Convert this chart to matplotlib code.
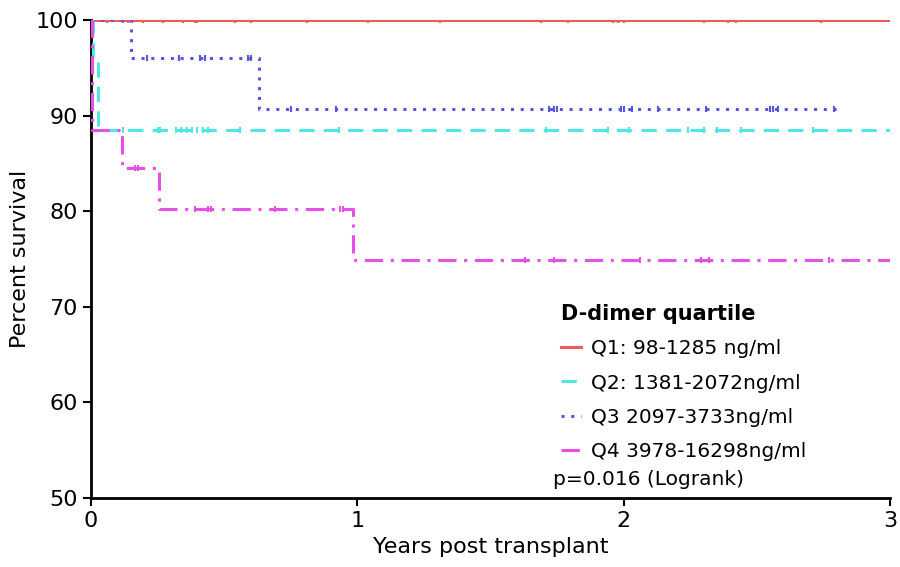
import matplotlib
matplotlib.use("Agg")
import matplotlib.pyplot as plt
import numpy as np

plt.rcParams['font.family'] = ['DejaVu Sans']

# Step curves: event times and survival after each step
q1_times = [0.0, 3.0]
q1_surv = [100.0, 100.0]
q2_times = [0.0, 0.008, 0.025, 3.0]
q2_surv = [100.0, 96.15, 88.46, 88.46]
q3_times = [0.0, 0.15, 0.63, 2.8]
q3_surv = [100.0, 96.0, 90.7, 90.7]
q4_times = [0.0, 0.003, 0.117, 0.255, 0.985, 3.0]
q4_surv = [100.0, 88.5, 84.5, 80.2, 74.9, 74.9]

# Censoring marks
q1_cens = [0.06, 0.12, 0.14, 0.195, 0.27, 0.345, 0.39, 0.40, 0.54, 0.6, 0.81, 1.04,
           1.31, 1.69, 1.79, 1.96, 1.98, 2.0, 2.30, 2.39, 2.42, 2.74]
q2_cens = [0.12, 0.25, 0.26, 0.32, 0.34, 0.36, 0.38, 0.40, 0.42, 0.44, 0.56, 0.93,
           1.71, 1.94, 2.02, 2.24, 2.30, 2.35, 2.44, 2.71]
q3_cens = [0.21, 0.33, 0.41, 0.43, 0.59, 0.60, 0.75, 0.92, 1.72, 1.74, 1.75, 1.99,
           2.0, 2.03, 2.13, 2.31, 2.55, 2.56, 2.58, 2.79]
q4_cens = [0.165, 0.177, 0.39, 0.44, 0.45, 0.69, 0.935, 0.945, 1.63, 1.74, 2.06,
           2.29, 2.32, 2.77]

labels = ["Q1: 98-1285 ng/ml", "Q2: 1381-2072ng/ml", "Q3 2097-3733ng/ml",
          "Q4 3978-16298ng/ml"]
colors = ["#f25a5a", "#4fe6e6", "#5656e0", "#e650e6"]
styles = ["-", (0, (5, 3)), (0, (1, 2.2)), (0, (6, 2.5, 1, 2.5))]

fig = plt.figure(figsize=(9, 5.67), dpi=100)
ax = fig.add_axes([0.101, 0.1217, 0.888, 0.843])

series = [(q1_times, q1_surv, q1_cens), (q2_times, q2_surv, q2_cens),
          (q3_times, q3_surv, q3_cens), (q4_times, q4_surv, q4_cens)]
handles = []
for (t, s, c), lab, col, ls in zip(series, labels, colors, styles):
    h, = ax.step(t, s, where='post', color=col, lw=2.2, linestyle=ls, label=lab,
                 zorder=3)
    cy = [s[np.searchsorted(t, ci, side='right') - 1] for ci in c]
    ax.plot(c, cy, linestyle='none', marker='|', markersize=5, mew=1.5, color=col,
            zorder=3)
    handles.append(h)

ax.set_xlim(0, 3)
ax.set_ylim(50, 100)
ax.set_xticks([0, 1, 2, 3])
ax.set_yticks([50, 60, 70, 80, 90, 100])
for sp in ['top', 'right']:
    ax.spines[sp].set_visible(False)
for sp in ['left', 'bottom']:
    ax.spines[sp].set_linewidth(2)
ax.tick_params(width=1.5, length=6, labelsize=16)
ax.set_xlabel("Years post transplant", fontsize=16)
ax.set_ylabel("Percent survival", fontsize=16)

leg = ax.legend(handles=handles, labels=labels, title="D-dimer quartile",
                loc='lower left', bbox_to_anchor=(0.565, 0.04), frameon=False,
                fontsize=14.5, handlelength=1.0, handletextpad=0.5,
                labelspacing=0.75, title_fontproperties={'weight': 'bold', 'size': 15})
leg._legend_box.align = "left"
ax.text(0.578, 0.038, "p=0.016 (Logrank)", transform=ax.transAxes, fontsize=14.5,
        ha='left', va='center')

fig.savefig("out.png", dpi=100)
